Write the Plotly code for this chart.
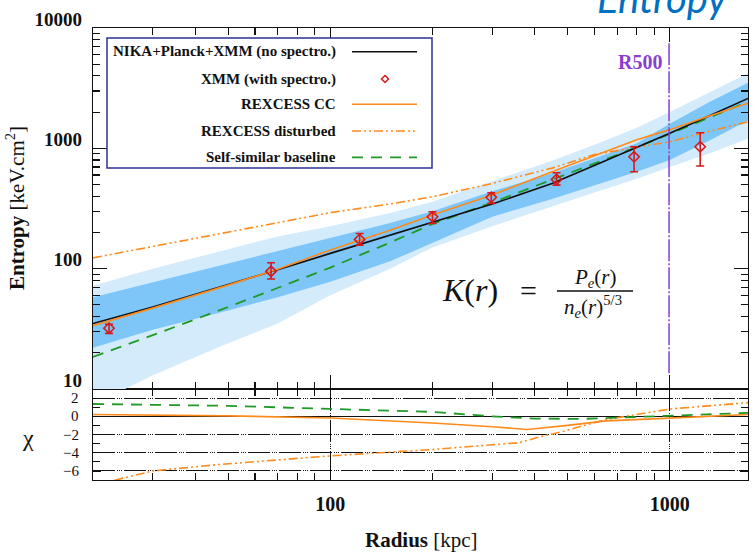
import plotly.graph_objects as go

# ---------------- data ----------------
r_model = [20, 30, 50, 70, 100, 150, 200, 300, 450, 600, 800, 1000, 1300, 1700]
K_nika = [35, 48, 74, 98, 134, 190, 245, 344, 510, 720, 1010, 1333, 1850, 2600]
K_cc = [33.6, 47, 73, 99, 143, 209, 279, 410, 640, 870, 1180, 1430, 1850, 2370]
K_dist = [123, 153, 200, 242, 292, 345, 396, 510, 685, 890, 1020, 1135, 1380, 1660]
K_ss = [18.5, 28, 48, 69, 102, 165, 235, 355, 550, 740, 1020, 1320, 1800, 2440]

band_r = [20, 30, 50, 70, 100, 150, 200, 300, 450, 600, 800, 1000, 1300, 1700]
band2_hi = [72, 100, 145, 185, 225, 290, 360, 530, 790, 1070, 1480, 2000, 2900, 4200]
band1_hi = [58, 77, 110, 140, 180, 240, 300, 440, 620, 820, 1100, 1600, 2400, 3500]
band1_lo = [22, 31, 45, 58, 78, 115, 165, 270, 380, 490, 640, 800, 1150, 1700]
band2_lo = [7.4, 13, 24, 35, 60, 100, 150, 225, 330, 430, 560, 700, 900, 1200]

r_xmm = [22.3, 66.9, 122, 200, 298, 464, 785, 1229]
K_xmm = [32, 95, 175, 270, 392, 552, 851, 1031]
K_err_hi = [2.5, 17, 21, 27, 36, 75, 180, 318]
K_err_lo = [3.0, 13, 18, 32, 43, 57, 212, 318]

R500 = 995

chi_r_ss = [20, 30, 50, 100, 200, 300, 400, 550, 650, 1000, 1700]
chi_ss = [1.35, 1.28, 1.15, 0.81, 0.48, 0.0, -0.25, -0.29, -0.18, 0.07, 0.37]
chi_r_cc = [20, 30, 50, 100, 200, 300, 380, 500, 650, 1000, 1700]
chi_cc = [0.2, 0.12, 0.05, -0.18, -0.73, -1.15, -1.45, -1.0, -0.5, -0.2, 0.2]
chi_r_dist = [20, 30, 47, 74, 100, 200, 360, 420, 480, 640, 1000, 1700]
chi_dist = [-7.6, -6.0, -5.3, -4.7, -4.35, -3.65, -2.9, -2.2, -1.7, -0.4, 0.8, 1.5]

x_major = [100, 1000]
x_labels = ["100", "1000"]
x_minor = [30, 40, 50, 60, 70, 80, 90, 200, 300, 400, 500, 600, 700, 800, 900]
y_major = [10, 100, 1000, 10000]
y_labels = ["10", "100", "1000", "10000"]
y_minor = [m * d for d in (10, 100, 1000) for m in range(2, 10)]
chi_major = [-6, -4, -2, 0, 2]
chi_labels = ["\u22126", "\u22124", "\u22122", "0", "2"]
chi_minor = [-5, -3, -1, 1]

legend_labels = ["NIKA+Planck+XMM (no spectro.)", "XMM (with spectro.)",
                 "REXCESS CC", "REXCESS disturbed", "Self-similar baseline"]

# ---------------- style ----------------
SERIF = "Liberation Serif, Times New Roman, DejaVu Serif, serif"
BLACK = "#111111"
ORANGE = "#ff8a1c"
GREEN = "#1f9a27"
RED = "#d7191c"
PURPLE = "#8a3fd1"
LIGHT = "#d4ebfb"
DARK = "#7ec6f7"
NAVY = "#2e3192"
DIST_DASH = "9px,3px,2px,3px,2px,3px"
SS_DASH = "11px,8px"

W, H = 756, 552
L, R, T, B = 93, 8, 28, 72
PW, PH = W - L - R, H - T - B


def px(x):
    return (x - L) / PW


def py(y):
    return (H - B - y) / PH


split = py(389)

fig = go.Figure()

# bands
fig.add_trace(go.Scatter(x=band_r + band_r[::-1], y=band2_hi + band2_lo[::-1],
                         fill="toself", fillcolor=LIGHT, line=dict(width=0),
                         mode="lines", xaxis="x2", yaxis="y2", hoverinfo="skip"))
fig.add_trace(go.Scatter(x=band_r + band_r[::-1], y=band1_hi + band1_lo[::-1],
                         fill="toself", fillcolor=DARK, line=dict(width=0),
                         mode="lines", xaxis="x2", yaxis="y2", hoverinfo="skip"))

# model lines (main)
fig.add_trace(go.Scatter(x=r_model, y=K_dist, mode="lines", xaxis="x2", yaxis="y2",
                         line=dict(color=ORANGE, width=1.6, dash=DIST_DASH)))
fig.add_trace(go.Scatter(x=r_model, y=K_ss, mode="lines", xaxis="x2", yaxis="y2",
                         line=dict(color=GREEN, width=1.8, dash=SS_DASH)))
fig.add_trace(go.Scatter(x=r_model, y=K_nika, mode="lines", xaxis="x2", yaxis="y2",
                         line=dict(color=BLACK, width=1.6)))
fig.add_trace(go.Scatter(x=r_model, y=K_cc, mode="lines", xaxis="x2", yaxis="y2",
                         line=dict(color=ORANGE, width=1.6)))

# R500
fig.add_trace(go.Scatter(x=[R500, R500], y=[13.5, 7500], mode="lines", xaxis="x2", yaxis="y2",
                         line=dict(color=PURPLE, width=1.5, dash="22px,2px,2px,2px")))

# XMM points
fig.add_trace(go.Scatter(x=r_xmm, y=K_xmm, mode="markers", xaxis="x2", yaxis="y2",
                         marker=dict(symbol="diamond-open", size=8, color=RED,
                                     line=dict(width=1.6, color=RED)),
                         error_y=dict(type="data", symmetric=False, array=K_err_hi,
                                      arrayminus=K_err_lo, color=RED, thickness=1.6, width=4)))

# chi panel
fig.add_trace(go.Scatter(x=chi_r_dist, y=chi_dist, mode="lines", xaxis="x", yaxis="y",
                         line=dict(color=ORANGE, width=1.6, dash=DIST_DASH)))
fig.add_trace(go.Scatter(x=chi_r_ss, y=chi_ss, mode="lines", xaxis="x", yaxis="y",
                         line=dict(color=GREEN, width=1.8, dash=SS_DASH)))
fig.add_trace(go.Scatter(x=chi_r_cc, y=chi_cc, mode="lines", xaxis="x", yaxis="y",
                         line=dict(color=ORANGE, width=1.6)))

axis_common = dict(showline=True, linecolor=BLACK, linewidth=1.2, mirror="ticks",
                   ticks="inside", tickcolor=BLACK, tickwidth=1.2, automargin=False)

grid_dash = "22px,2px,1px,1px,1px,1px,1px,2px"

fig.update_layout(
    width=W, height=H,
    margin=dict(l=L, r=R, t=T, b=B, autoexpand=False),
    paper_bgcolor="white", plot_bgcolor="white",
    showlegend=False, hovermode=False,
    font=dict(family=SERIF, color=BLACK),
    xaxis=dict(domain=[0, 1], anchor="y", type="log", range=[1.30103, 3.2304],
               tickvals=x_major, ticktext=["<b>%s</b>" % t for t in x_labels],
               ticklen=8, tickfont=dict(size=20, family=SERIF, color=BLACK),
               ticklabelstandoff=6,
               showgrid=True, gridcolor=BLACK, gridwidth=1, griddash=grid_dash,
               minor=dict(tickvals=x_minor, ticklen=7, ticks="inside", tickcolor=BLACK,
                          tickwidth=1.2, showgrid=False),
               zeroline=False, **axis_common),
    yaxis=dict(domain=[0, split], anchor="x", range=[-7, 3],
               tickvals=chi_major, showticklabels=False, ticklen=8,
               showgrid=True, gridcolor=BLACK, gridwidth=1, griddash=grid_dash,
               zeroline=True, zerolinecolor=BLACK, zerolinewidth=1.2,
               minor=dict(tickvals=chi_minor, ticklen=7, ticks="inside", tickcolor=BLACK,
                          tickwidth=1.2, showgrid=False),
               **axis_common),
    xaxis2=dict(domain=[0, 1], anchor="y2", type="log", matches="x", range=[1.30103, 3.2304],
                tickvals=x_major, showticklabels=False, ticklen=14, showgrid=False,
                minor=dict(tickvals=x_minor, ticklen=7, ticks="inside", tickcolor=BLACK,
                           tickwidth=1.2, showgrid=False),
                zeroline=False, **axis_common),
    yaxis2=dict(domain=[split, 1], anchor="x2", type="log", range=[1, 4],
                tickvals=y_major, ticktext=["<b>%s</b>" % t for t in y_labels],
                ticklen=14, tickfont=dict(size=19, family=SERIF, color=BLACK),
                ticklabelstandoff=6, ticklabelshift=-9, showgrid=False,
                minor=dict(tickvals=y_minor, ticklen=7, ticks="inside", tickcolor=BLACK,
                           tickwidth=1.2, showgrid=False),
                zeroline=False, **axis_common),
)

ann = []


def note(text, x, y, size, color=BLACK, family=SERIF, xanchor="center", angle=0):
    ann.append(dict(text=text, x=px(x), y=py(y), xref="paper", yref="paper",
                    xanchor=xanchor, yanchor="middle", showarrow=False, textangle=angle,
                    font=dict(size=size, family=family, color=color)))


# chi tick labels (placed on the chi axis scale)
for v, lab in zip(chi_major, chi_labels):
    ann.append(dict(text=lab, x=px(80), y=v, xref="paper", yref="y", xanchor="right",
                    yanchor="middle", showarrow=False, borderpad=0,
                    font=dict(size=15, family=SERIF, color=BLACK)))

# axis titles
note("<b>Radius</b> [kpc]", 421, 540, 21)
note("<b>Entropy</b> [keV.cm<sup>2</sup>]", 16, 208, 21, angle=-90)
note("\u03c7", 28, 438, 24)
# R500 label
note("<b>R500</b>", 640, 62, 20, color=PURPLE)
# Entropy header (cut at the top of the page, as in the source)
note("<i>Entropy</i>", 662, -2, 40, color="#0070c0", family="Lato, Open Sans, sans-serif")
# formula
note("<i>K</i>(<i>r</i>)", 470, 290, 32)
note("=", 528, 290, 30)
note("<i>P<sub>e</sub></i>(<i>r</i>)", 595, 278, 21)
note("<i>n<sub>e</sub></i>(<i>r</i>)<sup>5/3</sup>", 593, 306, 21)

shapes = [dict(type="line", xref="paper", yref="paper", x0=px(557), x1=px(633),
               y0=py(291), y1=py(291), line=dict(color=BLACK, width=1.5))]

# legend box
shapes.append(dict(type="rect", xref="paper", yref="paper", x0=px(107), x1=px(432),
                   y0=py(168), y1=py(38), fillcolor="white",
                   line=dict(color=NAVY, width=1.5), layer="above"))
rows = [51.7, 79, 104.3, 131, 157.3]
for lab, yy in zip(legend_labels, rows):
    note("<b>%s</b>" % lab, 338, yy, 15, xanchor="right")
sample_styles = [dict(color=BLACK, width=1.6), None,
                 dict(color=ORANGE, width=1.6),
                 dict(color=ORANGE, width=1.6, dash=DIST_DASH),
                 dict(color=GREEN, width=1.8, dash=SS_DASH)]
for st, yy in zip(sample_styles, rows):
    if st is None:
        cx, cy, d = 385, yy, 3.5
        shapes.append(dict(type="path", xref="paper", yref="paper",
                           path="M %f %f L %f %f L %f %f L %f %f Z" % (
                               px(cx - d), py(cy), px(cx), py(cy - d),
                               px(cx + d), py(cy), px(cx), py(cy + d)),
                           line=dict(color=RED, width=1.5), layer="above"))
    else:
        shapes.append(dict(type="line", xref="paper", yref="paper", x0=px(352), x1=px(417),
                           y0=py(yy), y1=py(yy), line=st, layer="above"))

fig.update_layout(annotations=ann, shapes=shapes)

fig.write_html("out.html", config={"displayModeBar": False, "staticPlot": True},
               post_script="document.body.style.margin='0px';"
                           "document.body.style.overflow='hidden';")
